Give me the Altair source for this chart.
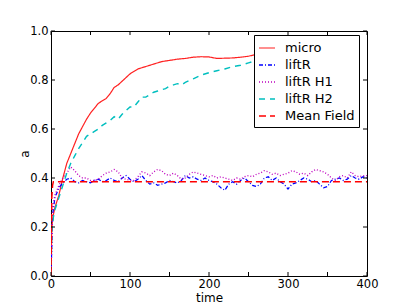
import altair as alt
import pandas as pd

# ---- data ----
micro_t = [0, 1, 3, 5, 10, 15, 20, 25, 30, 35, 40, 45, 50, 55, 60, 65, 70, 75, 80, 85, 90, 95, 100,
           110, 120, 130, 140, 150, 160, 170, 180, 190, 200, 210, 220, 230, 240, 250, 260, 280, 300,
           320, 340, 360, 390]
micro_v = [0.0, 0.2, 0.25, 0.28, 0.33, 0.40, 0.46, 0.50, 0.54, 0.58, 0.61, 0.64, 0.665, 0.685, 0.705,
           0.715, 0.725, 0.745, 0.77, 0.78, 0.795, 0.81, 0.825, 0.845, 0.855, 0.865, 0.875, 0.88, 0.885,
           0.888, 0.893, 0.895, 0.894, 0.888, 0.889, 0.89, 0.893, 0.897, 0.905, 0.91, 0.915, 0.92, 0.92,
           0.925, 0.93]

h2_t = [0, 1, 3, 5, 10, 15, 20, 25, 30, 35, 40, 45, 50, 55, 60, 65, 70, 75, 80, 85, 90, 95, 100, 105,
        110, 115, 120, 125, 130, 135, 140, 145, 150, 155, 160, 165, 170, 180, 190, 200, 210, 220, 230,
        240, 250, 260, 280, 300, 320, 340, 360, 380, 390]
h2_v = [0.0, 0.18, 0.24, 0.27, 0.32, 0.37, 0.42, 0.46, 0.49, 0.52, 0.545, 0.57, 0.58, 0.59, 0.60, 0.615,
        0.625, 0.635, 0.65, 0.64, 0.66, 0.675, 0.69, 0.69, 0.71, 0.73, 0.73, 0.74, 0.75, 0.755, 0.76,
        0.765, 0.775, 0.78, 0.785, 0.78, 0.79, 0.805, 0.82, 0.83, 0.838, 0.845, 0.855, 0.86, 0.87, 0.88,
        0.885, 0.89, 0.89, 0.895, 0.89, 0.885, 0.875]

fl_t = [0, 2, 5, 10, 15, 20, 25, 30, 35, 40, 45, 50, 55, 60, 65, 70, 75, 80, 85, 90, 95, 100, 105, 110,
        115, 120, 125, 130, 135, 140, 145, 150, 155, 160, 165, 170, 175, 180, 185, 190, 195, 200, 205,
        210, 215, 220, 225, 230, 235, 240, 245, 250, 255, 260, 265, 270, 275, 280, 285, 290, 295, 300,
        305, 310, 315, 320, 325, 330, 335, 340, 345, 350, 355, 360, 365, 370, 375, 380, 385, 390, 395, 400]
liftr_v = [0.0, 0.25, 0.32, 0.36, 0.38, 0.395, 0.40, 0.385, 0.38, 0.39, 0.385, 0.38, 0.39, 0.395, 0.385,
           0.39, 0.40, 0.39, 0.385, 0.40, 0.41, 0.395, 0.385, 0.395, 0.41, 0.39, 0.375, 0.38, 0.37, 0.375,
           0.38, 0.39, 0.385, 0.38, 0.39, 0.41, 0.40, 0.405, 0.395, 0.39, 0.40, 0.39, 0.385, 0.375, 0.36,
           0.35, 0.375, 0.385, 0.375, 0.39, 0.40, 0.385, 0.37, 0.365, 0.375, 0.40, 0.405, 0.39, 0.40, 0.385,
           0.375, 0.355, 0.375, 0.38, 0.39, 0.40, 0.395, 0.385, 0.39, 0.375, 0.36, 0.365, 0.39, 0.395,
           0.40, 0.39, 0.395, 0.41, 0.40, 0.395, 0.405, 0.40]
h1_v = [0.0, 0.28, 0.33, 0.37, 0.40, 0.42, 0.445, 0.43, 0.41, 0.40, 0.40, 0.39, 0.39, 0.395, 0.41, 0.42,
        0.425, 0.435, 0.425, 0.40, 0.395, 0.39, 0.39, 0.405, 0.425, 0.42, 0.41, 0.425, 0.435, 0.43, 0.415,
        0.41, 0.42, 0.41, 0.395, 0.40, 0.415, 0.425, 0.42, 0.415, 0.41, 0.405, 0.41, 0.40, 0.405, 0.40,
        0.395, 0.39, 0.40, 0.395, 0.405, 0.41, 0.405, 0.415, 0.42, 0.43, 0.425, 0.415, 0.42, 0.41, 0.415,
        0.42, 0.43, 0.425, 0.415, 0.42, 0.41, 0.425, 0.435, 0.43, 0.425, 0.415, 0.40, 0.39, 0.405, 0.41,
        0.40, 0.425, 0.41, 0.405, 0.41, 0.41]

mf_t = [0, 1, 2, 3, 400]
mf_v = [0.0, 0.32, 0.37, 0.385, 0.385]

series = ["micro", "liftR", "liftR H1", "liftR H2", "Mean Field"]
colors = ["#ff2020", "#0000ff", "#bf00bf", "#00bfbf", "#ff0000"]
dashes = [[1, 0], [4, 2, 1, 2], [1, 2], [6, 5], [7, 4]]
widths = [1.2, 1.5, 1.3, 2, 3]

x_ticks = [0, 50, 100, 150, 200, 250, 300, 350, 400]
y_ticks = [0.0, 0.2, 0.4, 0.6, 0.8, 1.0]

rows = []
for name, ts, vs in [("micro", micro_t, micro_v), ("liftR", fl_t, liftr_v),
                     ("liftR H1", fl_t, h1_v), ("liftR H2", h2_t, h2_v),
                     ("Mean Field", mf_t, mf_v)]:
    for i, (t, v) in enumerate(zip(ts, vs)):
        rows.append({"series": name, "time": t, "a": v, "idx": i})
df = pd.DataFrame(rows)

W, H = 316, 245
FONT = "DejaVu Sans"

xscale = alt.Scale(domain=[0, 400], nice=False, zero=False)
yscale = alt.Scale(domain=[0, 1], nice=False, zero=False)

leg = alt.Legend(title=None, orient="none", legendX=203, legendY=4)

lines = alt.Chart(df).mark_line(clip=True).encode(
    x=alt.X("time:Q", scale=xscale,
            axis=alt.Axis(values=x_ticks, title="time", ticks=False, domain=False, grid=False,
                          labelPadding=2, labelFlush=False, labelOverlap=False, format="d",
                          titleX=W / 2, titleY=25, titleBaseline="alphabetic")),
    y=alt.Y("a:Q", scale=yscale,
            axis=alt.Axis(values=y_ticks, title="a", ticks=False, domain=False, grid=False,
                          labelPadding=3, labelFlush=False, labelOverlap=False, format=".1f",
                          titleX=-23, titleY=H / 2, titleAngle=-90, titleBaseline="alphabetic")),
    color=alt.Color("series:N", scale=alt.Scale(domain=series, range=colors), legend=leg),
    strokeDash=alt.StrokeDash("series:N", scale=alt.Scale(domain=series, range=dashes), legend=leg),
    strokeWidth=alt.StrokeWidth("series:N", scale=alt.Scale(domain=series, range=widths), legend=leg),
    order="idx:Q",
)

xt = pd.DataFrame({"t": x_ticks})
yt = pd.DataFrame({"v": y_ticks})
tick_bottom = alt.Chart(xt).mark_rule(color="black").encode(
    x=alt.X("t:Q", scale=xscale), y=alt.value(H), y2=alt.value(H - 4))
tick_top = alt.Chart(xt).mark_rule(color="black").encode(
    x=alt.X("t:Q", scale=xscale), y=alt.value(0), y2=alt.value(4))
tick_left = alt.Chart(yt).mark_rule(color="black").encode(
    y=alt.Y("v:Q", scale=yscale), x=alt.value(0), x2=alt.value(4))
tick_right = alt.Chart(yt).mark_rule(color="black").encode(
    y=alt.Y("v:Q", scale=yscale), x=alt.value(W), x2=alt.value(W - 4))

chart = alt.layer(lines, tick_bottom, tick_top, tick_left, tick_right).properties(
    width=W, height=H,
    autosize=alt.AutoSizeParams(type="none"),
    padding={"left": 43, "top": 23, "right": 32, "bottom": 30},
).configure_view(
    stroke="black", strokeWidth=1
).configure_axis(
    labelFont=FONT, titleFont=FONT, labelFontSize=11.5, titleFontSize=12,
    labelColor="black", titleColor="black", titleFontWeight="normal"
).configure_legend(
    labelFont=FONT, labelFontSize=13, labelColor="black",
    symbolType="stroke", symbolSize=256, rowPadding=1,
    strokeColor="black", fillColor="white", padding=4, labelOffset=9,
    cornerRadius=0
)

chart.save("out.html", embed_options={"renderer": "svg", "actions": False})
